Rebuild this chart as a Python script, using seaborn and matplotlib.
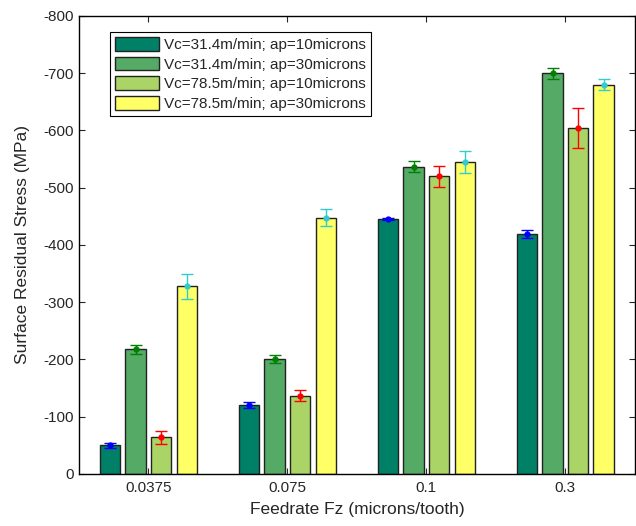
import numpy as np
import pandas as pd
import matplotlib
matplotlib.use("Agg")
import matplotlib.pyplot as plt
import seaborn as sns

feedrates = ["0.0375", "0.075", "0.1", "0.3"]
series = ["Vc=31.4m/min; ap=10microns", "Vc=31.4m/min; ap=30microns",
          "Vc=78.5m/min; ap=10microns", "Vc=78.5m/min; ap=30microns"]
s1 = [-50, -120, -445, -420]
s2 = [-218, -201, -537, -700]
s3 = [-64, -137, -520, -605]
s4 = [-328, -448, -545, -680]
e1 = [4, 5, 2, 7]
e2 = [8, 7, 9, 10]
e3 = [11, 9, 18, 35]
e4 = [22, 14, 20, 10]

bar_colors = ["#008066", "#55AA66", "#AAD466", "#FFFF66"]
err_colors = ["#0000FF", "#008000", "#FF0000", "#33CCCC"]

vals = [s1, s2, s3, s4]
errs = [e1, e2, e3, e4]
rows = []
for si, name in enumerate(series):
    for fi, f in enumerate(feedrates):
        rows.append({"Feedrate": f, "Series": name, "Stress": vals[si][fi], "Err": errs[si][fi]})
df = pd.DataFrame(rows)

sns.set_style("ticks")
plt.rcParams["font.family"] = ["Liberation Sans", "DejaVu Sans"]
plt.rcParams["axes.unicode_minus"] = False

fig = plt.figure(figsize=(6.36, 5.26), dpi=100)
ax = fig.add_axes([0.1242, 0.0989, 0.874, 0.8707])

sns.barplot(data=df, x="Feedrate", y="Stress", hue="Series", order=feedrates,
            hue_order=series, palette=bar_colors, width=0.736, gap=0.2,
            edgecolor="#222222", linewidth=1.0, errorbar=None, ax=ax, saturation=1)

# error bars from bar patches
bar_containers = list(ax.containers)
for si, cont in enumerate(bar_containers):
    for fi, patch in enumerate(cont.patches):
        xc = patch.get_x() + patch.get_width() / 2
        ax.errorbar(xc, vals[si][fi], yerr=errs[si][fi], fmt="o", color=err_colors[si],
                    ms=3.5, capsize=4, elinewidth=1.0, capthick=1.0, zorder=5)

ax.set_ylim(0, -800)
ax.set_yticks(np.arange(0, -801, -100))
ax.set_yticklabels([str(v) for v in np.arange(0, -801, -100)])
ax.set_xlim(-0.5, 3.5)
ax.set_xlabel("Feedrate Fz (microns/tooth)", fontsize=12.5, labelpad=5)
ax.set_ylabel("Surface Residual Stress (MPa)", fontsize=12.5, labelpad=10)
ax.tick_params(axis="both", direction="in", labelsize=11, length=4, width=0.8,
               top=True, right=True)
ax.tick_params(axis="x", pad=5)
for sp in ax.spines.values():
    sp.set_visible(True)
    sp.set_linewidth(1.0)
    sp.set_color("black")

leg = ax.legend(loc="upper left", bbox_to_anchor=(0.055, 0.966), fontsize=11,
                frameon=True, fancybox=False, edgecolor="black", framealpha=1,
                handlelength=2.9, handleheight=1.0, handletextpad=0.3,
                labelspacing=0.3, borderpad=0.35, borderaxespad=0)
leg.get_frame().set_linewidth(0.8)

fig.savefig("out.png", dpi=100)
